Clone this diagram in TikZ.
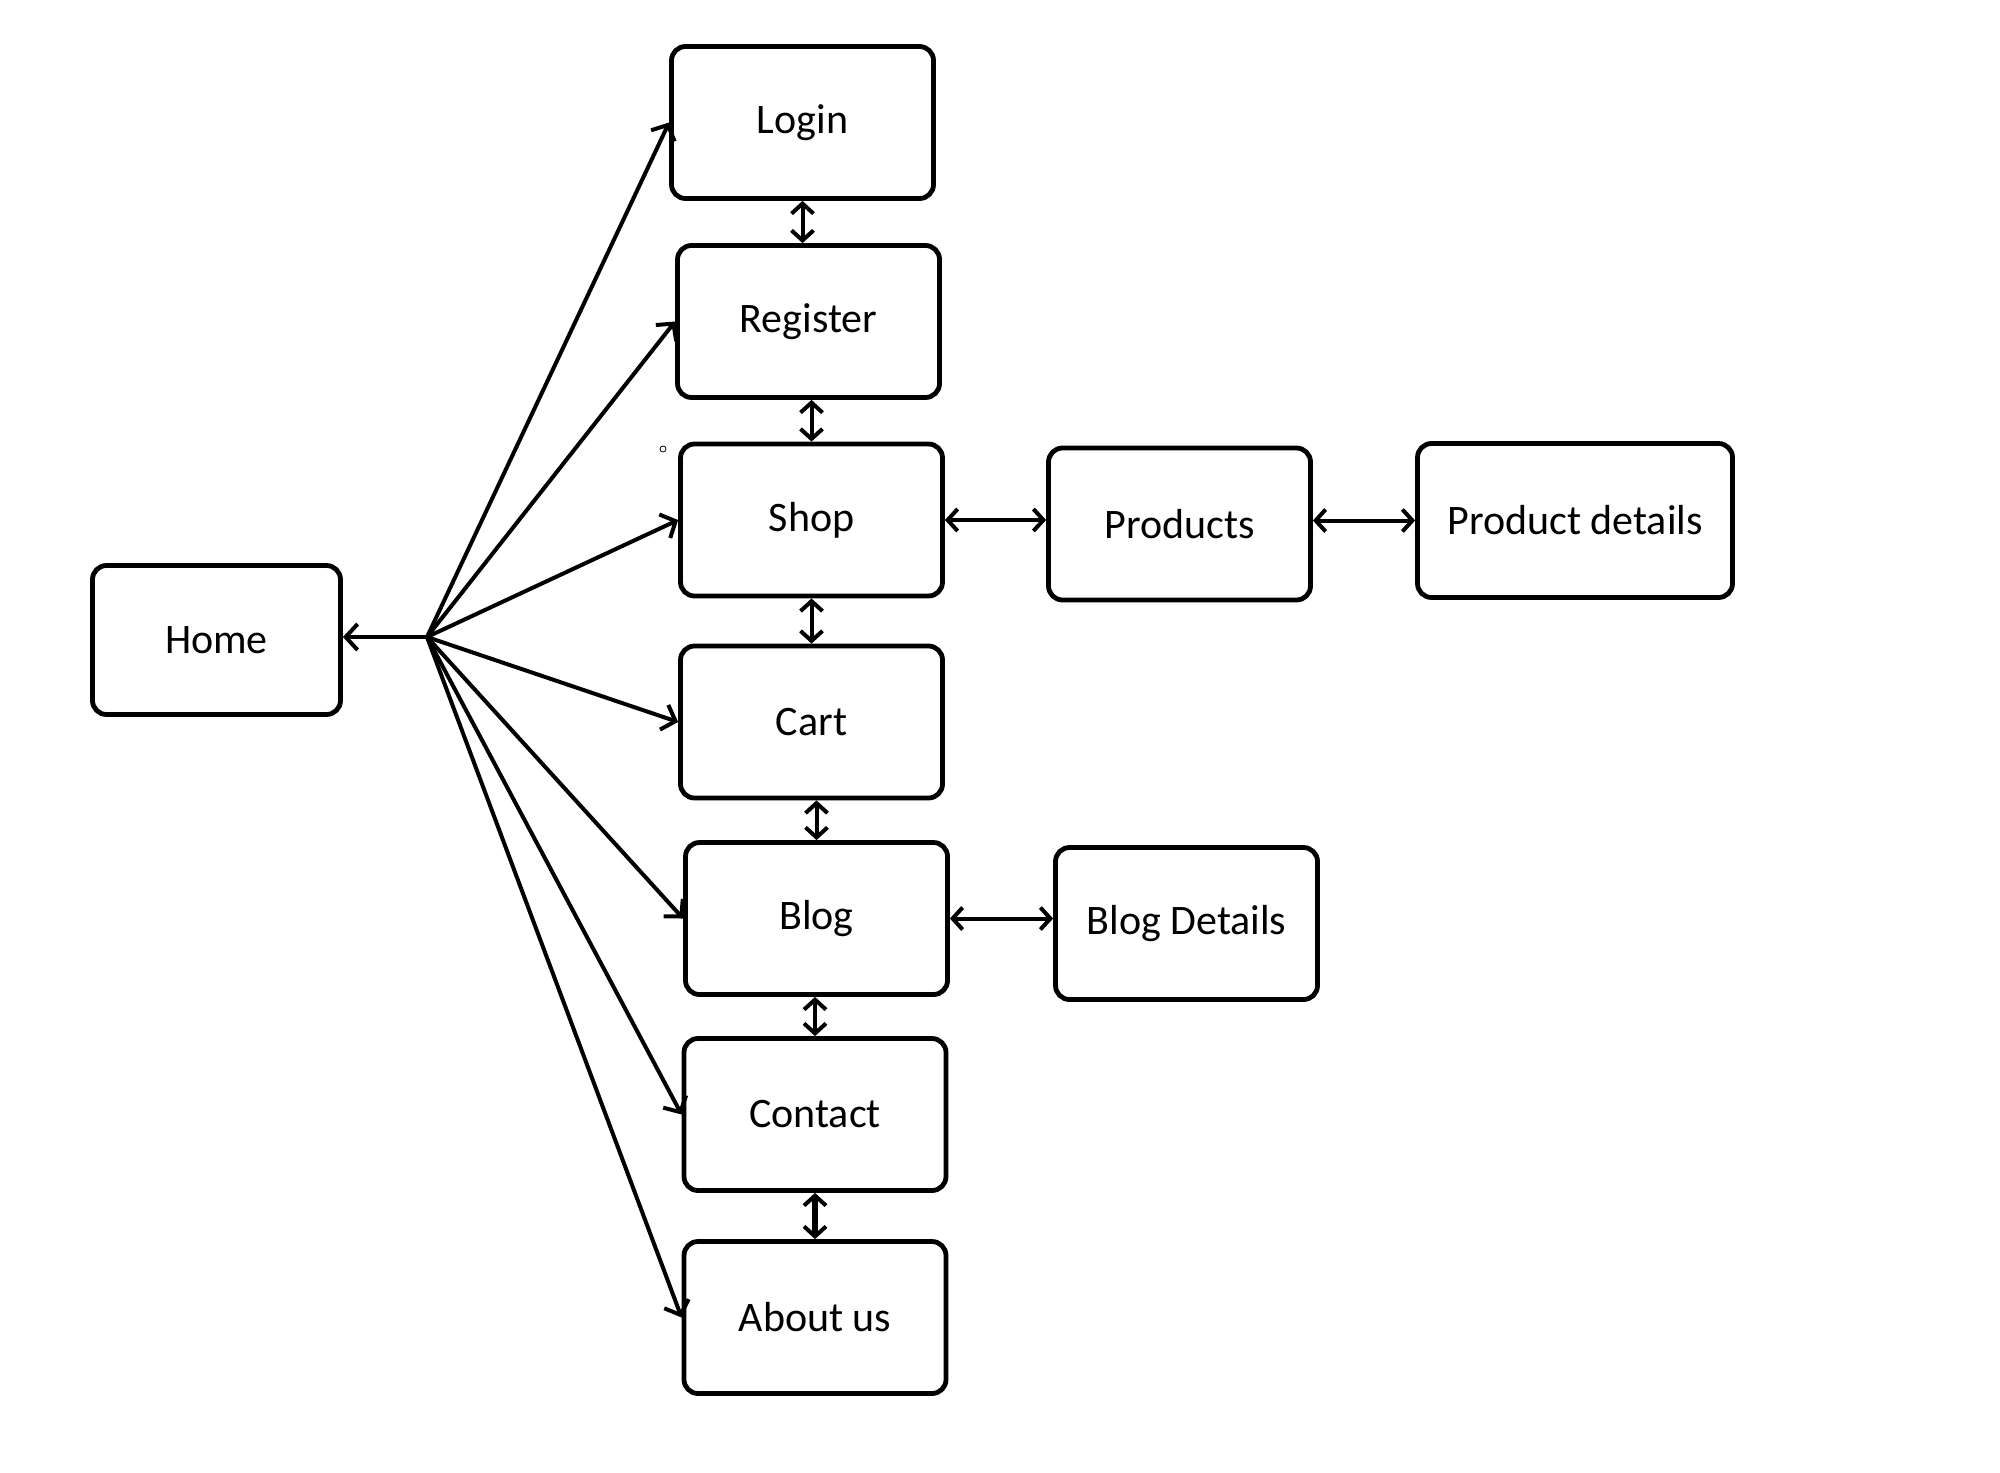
\documentclass[tikz,border=0pt]{standalone}
\usepackage{fontspec}
\setmainfont{Carlito}
\usetikzlibrary{arrows.meta}
\tikzset{
  pagebox/.style={draw, line width=2.4pt, rounded corners=7pt, minimum width=131pt, minimum height=76pt, inner sep=0pt, font=\fontsize{21}{25}\selectfont},
  link/.style={line width=2pt, -{Straight Barb[length=6pt,width=13pt,line width=2pt]}},
  dlink/.style={line width=2pt, {Straight Barb[length=5pt,width=11pt,line width=2pt]}-{Straight Barb[length=5pt,width=11pt,line width=2pt]}}
}
\begin{document}
\begin{tikzpicture}[x=0.5pt,y=-0.5pt]
\useasboundingbox (0,0) rectangle (2000,1472);
\node[pagebox] (login) at (802.5,122.5) {Login};
\node[pagebox] (register) at (808.5,321.5) {Register};
\node[pagebox] (shop) at (811.5,520) {Shop};
\node[pagebox] (cart) at (811.5,722) {Cart};
\node[pagebox] (blog) at (816.5,918.5) {Blog};
\node[pagebox] (contact) at (815,1114.5) {Contact};
\node[pagebox] (about) at (815,1317.5) {About us};
\node[pagebox, minimum width=124pt, minimum height=74.5pt] (home) at (216.5,640) {Home};
\node[pagebox] (products) at (1179.5,524) {Products};
\node[pagebox, minimum width=157.5pt, minimum height=77pt] (pd) at (1575,520.5) {Product details};
\node[pagebox] (bd) at (1186.5,923.5) {Blog Details};
\coordinate (hub) at (427,637);
\draw[link] (hub) -- (home.east |- hub);
\foreach \t in {login,register,shop,cart,blog,contact,about}
  \draw[link] (hub) -- (\t.west);
\draw[dlink] (login.south) -- (login.south |- register.north);
\draw[dlink] (shop.north |- register.south) -- (shop.north);
\draw[dlink] (shop.south) -- (shop.south |- cart.north);
\draw[dlink] (cart.south -| blog.north) -- (blog.north);
\draw[dlink] (contact.north |- blog.south) -- (contact.north);
\draw[dlink, line width=2.6pt] (contact.south) -- (contact.south |- about.north);
\draw[dlink] (shop.east) -- (shop.east -| products.west);
\draw[dlink] (pd.west -| products.east) -- (pd.west);
\draw[dlink] (blog.east) -- (blog.east -| bd.west);
\node[draw, circle, line width=0.4pt, minimum size=3pt, inner sep=0pt] (dot) at (663,449) {};
\end{tikzpicture}
\end{document}
